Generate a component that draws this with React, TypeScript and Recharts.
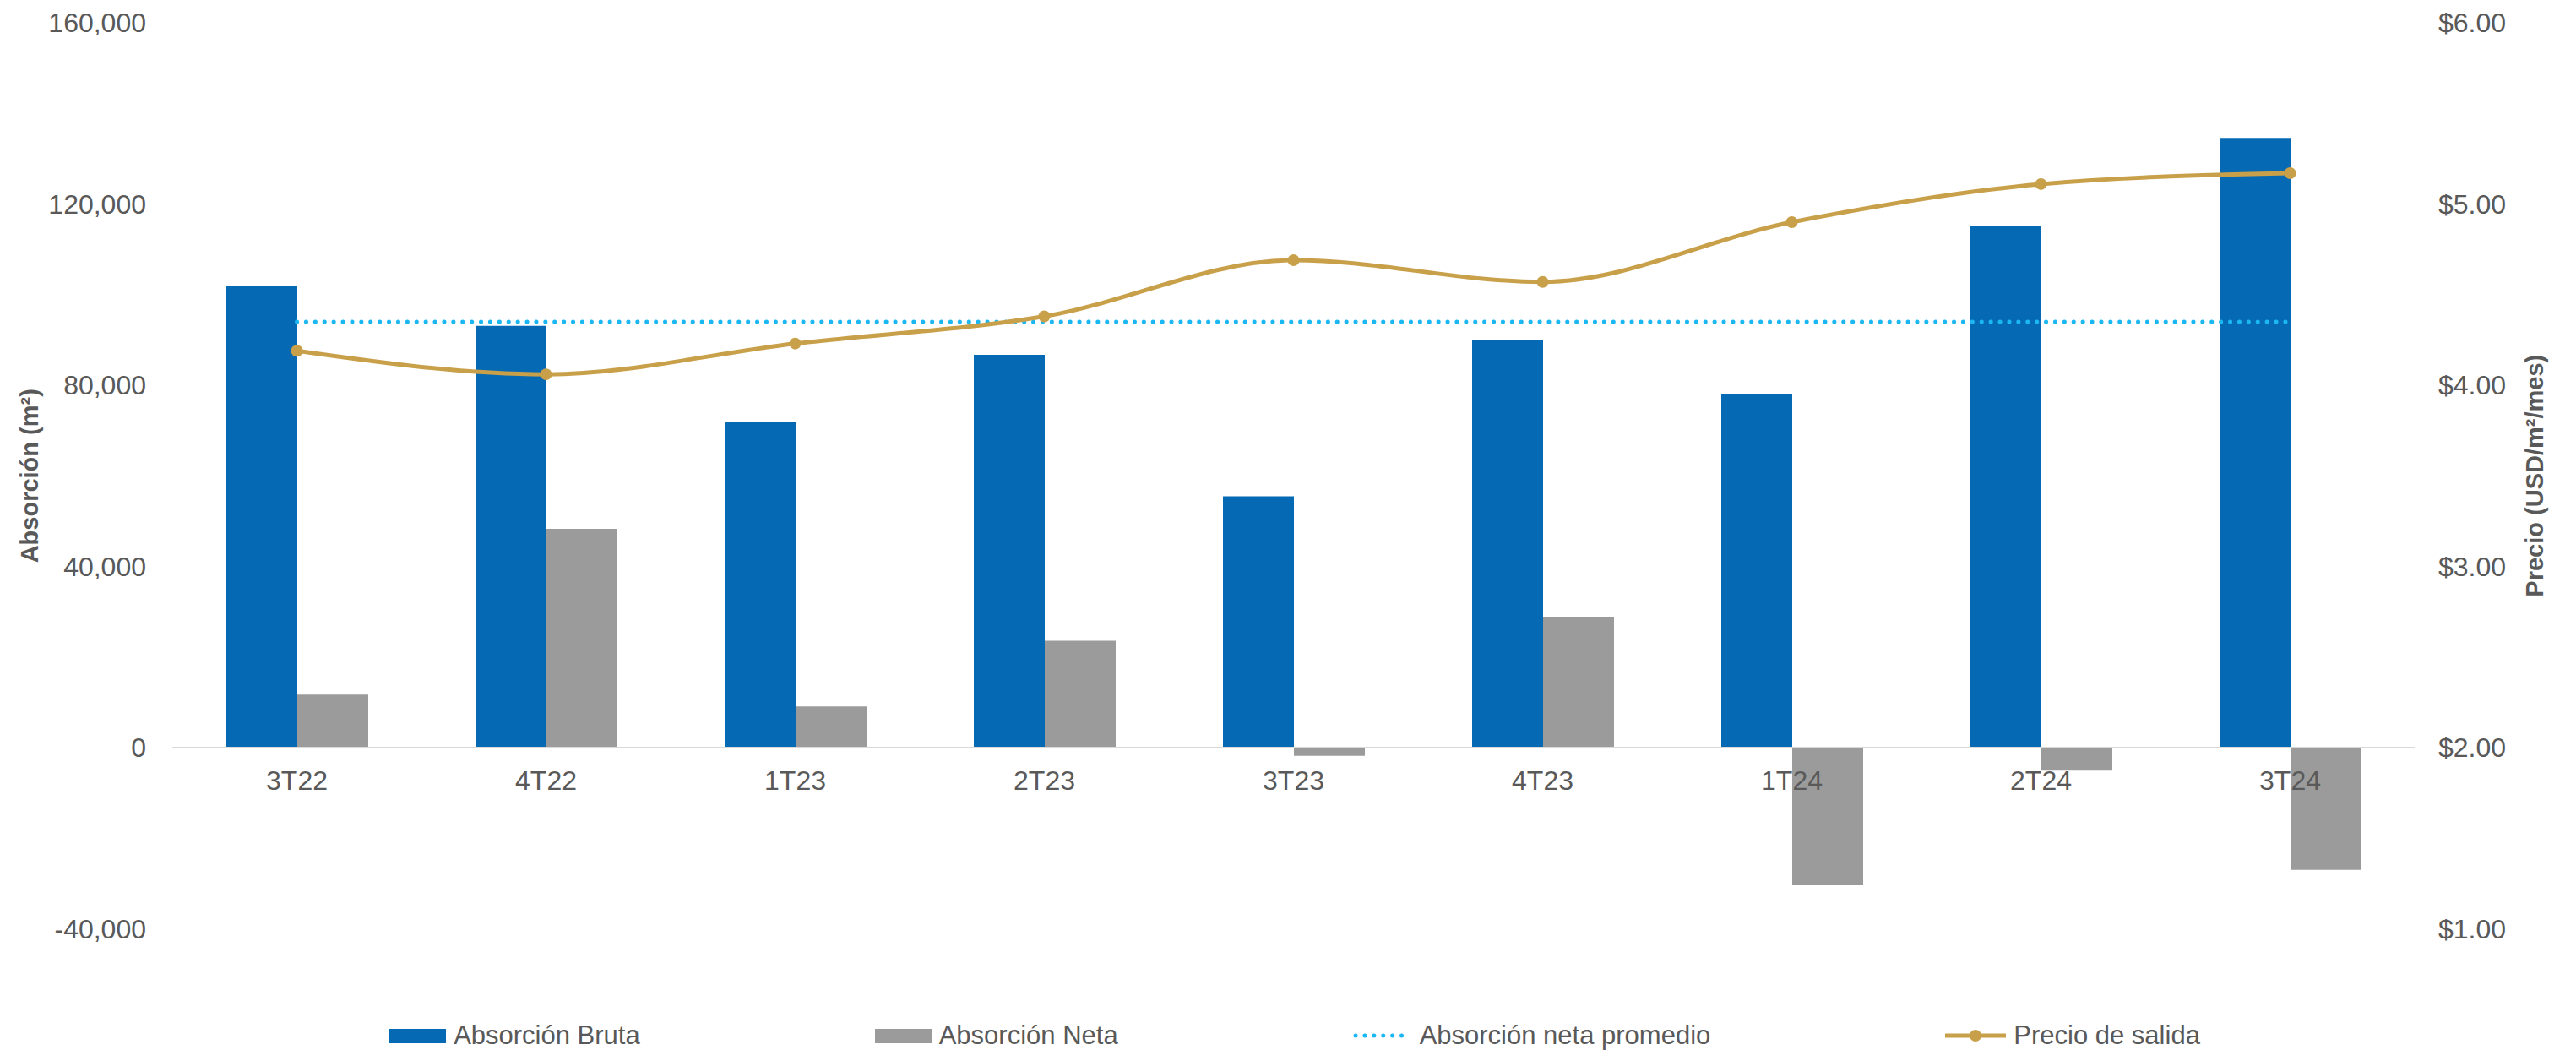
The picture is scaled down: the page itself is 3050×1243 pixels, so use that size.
import React from 'react';
import {
  ComposedChart,
  Bar,
  Line,
  XAxis,
  YAxis,
  ReferenceLine,
  Legend,
} from 'recharts';

const categories = ['3T22', '4T22', '1T23', '2T23', '3T23', '4T23', '1T24', '2T24', '3T24'];
const absorcionBruta = [101900, 93100, 71800, 86700, 55500, 90000, 78100, 115200, 134600];
const absorcionNeta = [11700, 48300, 9100, 23600, -1800, 28700, -30400, -5100, -27000];
const absorcionNetaPromedio = [94000, 94000, 94000, 94000, 94000, 94000, 94000, 94000, 94000];
const precioSalida = [4.19, 4.06, 4.23, 4.38, 4.69, 4.57, 4.9, 5.11, 5.17];

const leftTicks = [-40000, 0, 40000, 80000, 120000, 160000];
const rightTicks = [1, 2, 3, 4, 5, 6];
const leftDomain: [number, number] = [-40000, 160000];
const rightDomain: [number, number] = [1, 6];

const seriesNames = {
  bruta: 'Absorción Bruta',
  neta: 'Absorción Neta',
  promedio: 'Absorción neta promedio',
  precio: 'Precio de salida',
};

const data = categories.map((c, i) => ({
  cat: c,
  bruta: absorcionBruta[i],
  neta: absorcionNeta[i],
  promedio: absorcionNetaPromedio[i],
  precio: precioSalida[i],
}));

const W = 3050;
const H = 1243;
const MARGIN = { top: 27, right: 0, bottom: 63.5, left: 0 };
const X_AXIS_H = 40;
const LEGEND_H = 40;
const PLOT_H = H - MARGIN.top - MARGIN.bottom - X_AXIS_H - LEGEND_H;

const BLUE = '#0569B3';
const GREY = '#9B9B9B';
const CYAN = '#1AB7F2';
const GOLD = '#C9A04A';
const TEXT = '#595959';
const FONT = '"Liberation Sans", Arial, sans-serif';

const zeroFraction = (0 - leftDomain[0]) / (leftDomain[1] - leftDomain[0]);

const CategoryTick = (props: any) => {
  const { x, y, payload } = props;
  const zeroY = y - PLOT_H * zeroFraction;
  return (
    <text
      x={x}
      y={zeroY + 39}
      dy="0.355em"
      textAnchor="middle"
      fill={TEXT}
      fontSize={32}
      fontFamily={FONT}
    >
      {payload.value}
    </text>
  );
};

const LeftTitle = (props: any) => {
  const vb = props.viewBox || {};
  const cx = vb.x + 35;
  const cy = vb.y + vb.height / 2;
  return (
    <text
      x={cx}
      y={cy}
      transform={`rotate(-90, ${cx}, ${cy})`}
      textAnchor="middle"
      dominantBaseline="central"
      fill={TEXT}
      fontSize={29}
      fontWeight="bold"
      fontFamily={FONT}
    >
      Absorción (m²)
    </text>
  );
};

const RightTitle = (props: any) => {
  const vb = props.viewBox || {};
  const cx = vb.x + 142;
  const cy = vb.y + vb.height / 2;
  return (
    <text
      x={cx}
      y={cy}
      transform={`rotate(-90, ${cx}, ${cy})`}
      textAnchor="middle"
      dominantBaseline="central"
      fill={TEXT}
      fontSize={29}
      fontWeight="bold"
      fontFamily={FONT}
    >
      Precio (USD/m²/mes)
    </text>
  );
};

const LegendContent = () => {
  const itemStyle: React.CSSProperties = {
    display: 'flex',
    alignItems: 'center',
    gap: 9,
    color: TEXT,
    fontSize: 31,
    fontFamily: FONT,
    whiteSpace: 'nowrap',
  };
  return (
    <div
      style={{
        display: 'flex',
        justifyContent: 'center',
        alignItems: 'center',
        gap: 278,
        height: LEGEND_H,
        paddingLeft: 16,
      }}
    >
      <div style={itemStyle}>
        <svg width={67} height={17}>
          <rect x={0} y={0} width={67} height={17} fill={BLUE} />
        </svg>
        <span>{seriesNames.bruta}</span>
      </div>
      <div style={itemStyle}>
        <svg width={67} height={17}>
          <rect x={0} y={0} width={67} height={17} fill={GREY} />
        </svg>
        <span>{seriesNames.neta}</span>
      </div>
      <div style={itemStyle}>
        <svg width={70} height={12}>
          <line
            x1={3}
            y1={6}
            x2={68}
            y2={6}
            stroke={CYAN}
            strokeWidth={5}
            strokeLinecap="round"
            strokeDasharray="0.1 10.8"
          />
        </svg>
        <span>{seriesNames.promedio}</span>
      </div>
      <div style={itemStyle}>
        <svg width={72} height={16}>
          <line x1={0} y1={8} x2={72} y2={8} stroke={GOLD} strokeWidth={5} />
          <circle cx={36} cy={8} r={7} fill={GOLD} />
        </svg>
        <span>{seriesNames.precio}</span>
      </div>
    </div>
  );
};

export default function App() {
  return (
    <div style={{ position: 'absolute', left: 0, top: 0, width: W, height: H, background: '#fff' }}>
      <ComposedChart width={W} height={H} data={data} margin={MARGIN} barGap={0}>
        <XAxis
          dataKey="cat"
          xAxisId={0}
          height={X_AXIS_H}
          axisLine={false}
          tickLine={false}
          tickSize={0}
          tickMargin={0}
          interval={0}
          tick={<CategoryTick />}
        />
        <YAxis
          yAxisId="left"
          orientation="left"
          width={204}
          domain={leftDomain}
          ticks={leftTicks}
          interval={0}
          axisLine={false}
          tickLine={false}
          tickSize={0}
          tickMargin={31}
          tickFormatter={(v: number) => v.toLocaleString('en-US')}
          tick={{ fill: TEXT, fontSize: 32, fontFamily: FONT }}
          label={{ content: <LeftTitle /> }}
        />
        <YAxis
          yAxisId="right"
          orientation="right"
          width={191}
          domain={rightDomain}
          ticks={rightTicks}
          interval={0}
          axisLine={false}
          tickLine={false}
          tickSize={0}
          tickMargin={28}
          tickFormatter={(v: number) => `$${v.toFixed(2)}`}
          tick={{ fill: TEXT, fontSize: 32, fontFamily: FONT, textAnchor: 'start' }}
          label={{ content: <RightTitle /> }}
        />
        <ReferenceLine yAxisId="left" y={0} stroke="#D9D9D9" strokeWidth={2} />
        <Bar
          yAxisId="left"
          dataKey="bruta"
          name={seriesNames.bruta}
          fill={BLUE}
          barSize={84}
          isAnimationActive={false}
        />
        <Bar
          yAxisId="left"
          dataKey="neta"
          name={seriesNames.neta}
          fill={GREY}
          barSize={84}
          isAnimationActive={false}
        />
        <Line
          yAxisId="left"
          dataKey="promedio"
          name={seriesNames.promedio}
          type="linear"
          stroke={CYAN}
          strokeWidth={5}
          strokeLinecap="round"
          strokeDasharray="0.1 10.8"
          dot={false}
          activeDot={false}
          isAnimationActive={false}
        />
        <Line
          yAxisId="right"
          dataKey="precio"
          name={seriesNames.precio}
          type="monotone"
          stroke={GOLD}
          strokeWidth={5}
          dot={{ r: 7, fill: GOLD, stroke: GOLD, strokeWidth: 0 }}
          activeDot={false}
          isAnimationActive={false}
        />
        <Legend
          verticalAlign="bottom"
          content={<LegendContent />}
          wrapperStyle={{ top: 1206, bottom: 'auto', left: 0, width: W, height: LEGEND_H }}
        />
      </ComposedChart>
    </div>
  );
}
